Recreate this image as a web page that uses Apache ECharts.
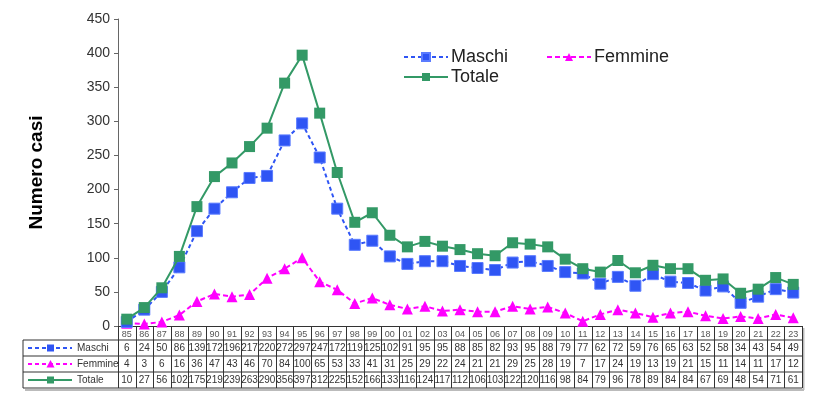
<!DOCTYPE html>
<html>
<head>
<meta charset="utf-8">
<script src="https://cdn.jsdelivr.net/npm/echarts@6/dist/echarts.min.js"></script>
<style>
  html, body { margin: 0; padding: 0; background: #fff; }
  #main { width: 814px; height: 397px; }
</style>
</head>
<body>
<div id="main"></div>
<script>
// anni (categorie)
const years = ['85','86','87','88','89','90','91','92','93','94','95','96','97','98','99','00','01','02','03','04',
  '05','06','07','08','09','10','11','12','13','14','15','16','17','18','19','20','21','22','23'];

// casi per anno
const maschi = [6,24,50,86,139,172,196,217,220,272,297,247,172,119,125,102,91,95,95,88,
  85,82,93,95,88,79,77,62,72,59,76,65,63,52,58,34,43,54,49];
const femmine = [4,3,6,16,36,47,43,46,70,84,100,65,53,33,41,31,25,29,22,24,
  21,21,29,25,28,19,7,17,24,19,13,19,21,15,11,14,11,17,12];
const totale = [10,27,56,102,175,219,239,263,290,356,397,312,225,152,166,133,116,124,117,112,
  106,103,122,120,116,98,84,79,96,78,89,84,84,67,69,48,54,71,61];

const font = 'Liberation Sans, Arial, sans-serif';
const col_blue = '#2f55f4';
const col_mag = '#ff00ff';
const col_green = '#339966';

var chart = echarts.init(document.getElementById('main'));

var legend_text = { fontSize: 18, color: '#222', fontFamily: font, padding: [0, 0, 0, -2] };

var option = {
    animation: false,
    textStyle: { fontFamily: font },
    grid: { left: 118, right: 12, top: 19, bottom: 71 },
    legend: [
        { data: ['Maschi'], left: 398, top: 43, itemWidth: 44, itemHeight: 10, textStyle: legend_text },
        { data: ['Femmine'], left: 541, top: 43, itemWidth: 44, itemHeight: 10, textStyle: legend_text },
        { data: ['Totale'], left: 398, top: 63, itemWidth: 44, itemHeight: 10, textStyle: legend_text }
    ],
    xAxis: {
        type: 'category',
        data: years,
        boundaryGap: true,
        axisLine: { lineStyle: { color: '#333', width: 1 } },
        axisTick: { show: false },
        axisLabel: { interval: 0, fontSize: 9, color: '#555', margin: 4 }
    },
    yAxis: {
        type: 'value',
        min: 0,
        max: 450,
        interval: 50,
        name: 'Numero casi',
        nameLocation: 'middle',
        nameGap: 72,
        nameTextStyle: { fontSize: 19, fontWeight: 'bold', color: '#000', padding: [0, 0, 0, 0] },
        axisLine: { show: true, lineStyle: { color: '#666' } },
        axisTick: { show: true, length: 4, lineStyle: { color: '#666' } },
        axisLabel: { fontSize: 14, color: '#333', margin: 8 },
        splitLine: { show: false }
    },
    series: [
        {
            name: 'Maschi', type: 'line', data: maschi,
            symbol: 'rect', symbolSize: 11,
            lineStyle: { color: col_blue, width: 2, type: [4, 3] },
            itemStyle: { color: col_blue, borderColor: '#5a7bff', borderWidth: 1 },
            z: 3
        },
        {
            name: 'Femmine', type: 'line', data: femmine,
            symbol: 'triangle', symbolSize: 11,
            lineStyle: { color: col_mag, width: 2, type: [5, 3] },
            itemStyle: { color: col_mag },
            z: 2
        },
        {
            name: 'Totale', type: 'line', data: totale,
            symbol: 'rect', symbolSize: 11,
            lineStyle: { color: col_green, width: 2 },
            itemStyle: { color: col_green },
            z: 4
        }
    ]
};
chart.setOption(option);

//tabella dati sotto il grafico
function draw_table() {
    var els = [];
    var n = years.length;
    var c0 = chart.convertToPixel({ xAxisIndex: 0 }, 0);
    var c1 = chart.convertToPixel({ xAxisIndex: 0 }, 1);
    var w = c1 - c0;
    var x0 = c0 - w / 2;
    var xEnd = x0 + w * n;
    var yTop = chart.convertToPixel({ yAxisIndex: 0 }, 0);
    var rows = [340, 356, 372, 388];
    var xLeft = 23;
    var line = { stroke: '#333', lineWidth: 1 };

    // ombra
    els.push({ type: 'line', shape: { x1: xLeft + 2, y1: 390, x2: xEnd + 2, y2: 390 }, style: { stroke: '#bbb', lineWidth: 2 } });
    els.push({ type: 'line', shape: { x1: xEnd + 1.5, y1: yTop + 2, x2: xEnd + 1.5, y2: 390 }, style: { stroke: '#bbb', lineWidth: 2 } });

    rows.forEach(function (y) {
        els.push({ type: 'line', shape: { x1: xLeft, y1: y, x2: xEnd, y2: y }, style: line });
    });
    els.push({ type: 'line', shape: { x1: xLeft, y1: rows[0], x2: xLeft, y2: rows[3] }, style: line });
    for (var i = 0; i <= n; i++) {
        var x = Math.round(x0 + w * i) + 0.5;
        els.push({ type: 'line', shape: { x1: x, y1: yTop, x2: x, y2: rows[3] }, style: line });
    }

    var tab = [maschi, femmine, totale];
    tab.forEach(function (arr, r) {
        var yc = (rows[r] + rows[r + 1]) / 2;
        arr.forEach(function (v, i) {
            els.push({
                type: 'text',
                style: { text: String(v), x: x0 + w * (i + 0.5), y: yc + 0.5, align: 'center', verticalAlign: 'middle',
                    fontSize: 10, fill: '#333', fontFamily: font }
            });
        });
    });

    // etichette con icona
    var labels = [
        { name: 'Maschi', color: col_blue, dash: [4, 3], sym: 'rect' },
        { name: 'Femmine', color: col_mag, dash: [4, 3], sym: 'tri' },
        { name: 'Totale', color: col_green, dash: null, sym: 'rect' }
    ];
    labels.forEach(function (l, r) {
        var yc = (rows[r] + rows[r + 1]) / 2;
        els.push({ type: 'line', shape: { x1: 28, y1: yc, x2: 72, y2: yc },
            style: { stroke: l.color, lineWidth: 2, lineDash: l.dash } });
        if (l.sym === 'rect') {
            els.push({ type: 'rect', shape: { x: 47, y: yc - 3.5, width: 7, height: 7 }, style: { fill: l.color } });
        } else {
            els.push({ type: 'polygon', shape: { points: [[50.5, yc - 4], [46.5, yc + 3.5], [54.5, yc + 3.5]] }, style: { fill: l.color } });
        }
        els.push({ type: 'text', style: { text: l.name, x: 77, y: yc + 0.5, verticalAlign: 'middle',
            fontSize: 10, fill: '#333', fontFamily: font } });
    });

    chart.setOption({ graphic: { elements: els } });
}

draw_table();
</script>
</body>
</html>
